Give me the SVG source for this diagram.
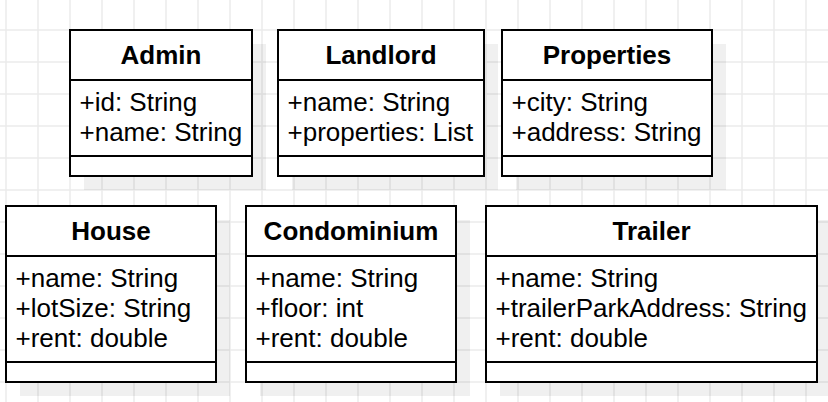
<svg xmlns="http://www.w3.org/2000/svg" width="828" height="402" viewBox="0 0 828 402">
<style>
.grid{stroke:#ebebeb;stroke-width:1.5;fill:none}
.shadow{fill:#000;fill-opacity:0.06}
.box{fill:#fff;stroke:#000;stroke-width:2}
.div{stroke:#000;stroke-width:2}
text{font-family:"Liberation Sans",Arial,sans-serif;font-size:26px;fill:#000}
.title{font-weight:bold;text-anchor:middle}
</style>
<rect width="828" height="402" fill="#fff"/>
<path class="grid" d="M6 0V402M38 0V402M70 0V402M102 0V402M134 0V402M166 0V402M198 0V402M230 0V402M262 0V402M294 0V402M326 0V402M358 0V402M390 0V402M422 0V402M454 0V402M486 0V402M518 0V402M550 0V402M582 0V402M614 0V402M646 0V402M678 0V402M710 0V402M742 0V402M774 0V402M806 0V402M0 30H828M0 62H828M0 94H828M0 126H828M0 158H828M0 190H828M0 222H828M0 254H828M0 286H828M0 318H828M0 350H828M0 382H828"/>
<g id="connectors"></g>
<g id="admin">
<rect class="shadow" x="84" y="44" width="182" height="146"/>
<rect class="box" x="70" y="30" width="182" height="146"/>
<line class="div" x1="70" y1="80" x2="252" y2="80"/>
<line class="div" x1="70" y1="156" x2="252" y2="156"/>
<text class="title" x="161" y="64">Admin</text>
<text x="79.5" y="110.5">+id: String</text>
<text x="79.5" y="140.5">+name: String</text>
</g>
<g id="landlord">
<rect class="shadow" x="292" y="44" width="206" height="146"/>
<rect class="box" x="278" y="30" width="206" height="146"/>
<line class="div" x1="278" y1="80" x2="484" y2="80"/>
<line class="div" x1="278" y1="156" x2="484" y2="156"/>
<text class="title" x="381" y="64">Landlord</text>
<text x="287.5" y="110.5">+name: String</text>
<text x="287.5" y="140.5">+properties: List</text>
</g>
<g id="properties">
<rect class="shadow" x="516" y="44" width="210" height="146"/>
<rect class="box" x="502" y="30" width="210" height="146"/>
<line class="div" x1="502" y1="80" x2="712" y2="80"/>
<line class="div" x1="502" y1="156" x2="712" y2="156"/>
<text class="title" x="607" y="64">Properties</text>
<text x="511.5" y="110.5">+city: String</text>
<text x="511.5" y="140.5">+address: String</text>
</g>
<g id="house">
<rect class="shadow" x="20" y="220" width="210" height="176"/>
<rect class="box" x="6" y="206" width="210" height="176"/>
<line class="div" x1="6" y1="256" x2="216" y2="256"/>
<line class="div" x1="6" y1="362" x2="216" y2="362"/>
<text class="title" x="111" y="240">House</text>
<text x="15.5" y="286.5">+name: String</text>
<text x="15.5" y="316.5">+lotSize: String</text>
<text x="15.5" y="346.5">+rent: double</text>
</g>
<g id="condominium">
<rect class="shadow" x="260" y="220" width="210" height="176"/>
<rect class="box" x="246" y="206" width="210" height="176"/>
<line class="div" x1="246" y1="256" x2="456" y2="256"/>
<line class="div" x1="246" y1="362" x2="456" y2="362"/>
<text class="title" x="351" y="240">Condominium</text>
<text x="255.5" y="286.5">+name: String</text>
<text x="255.5" y="316.5">+floor: int</text>
<text x="255.5" y="346.5">+rent: double</text>
</g>
<g id="trailer">
<rect class="shadow" x="500" y="220" width="331" height="176"/>
<rect class="box" x="486" y="206" width="331" height="176"/>
<line class="div" x1="486" y1="256" x2="817" y2="256"/>
<line class="div" x1="486" y1="362" x2="817" y2="362"/>
<text class="title" x="651.5" y="240">Trailer</text>
<text x="495.5" y="286.5">+name: String</text>
<text x="495.5" y="316.5">+trailerParkAddress: String</text>
<text x="495.5" y="346.5">+rent: double</text>
</g>
</svg>
